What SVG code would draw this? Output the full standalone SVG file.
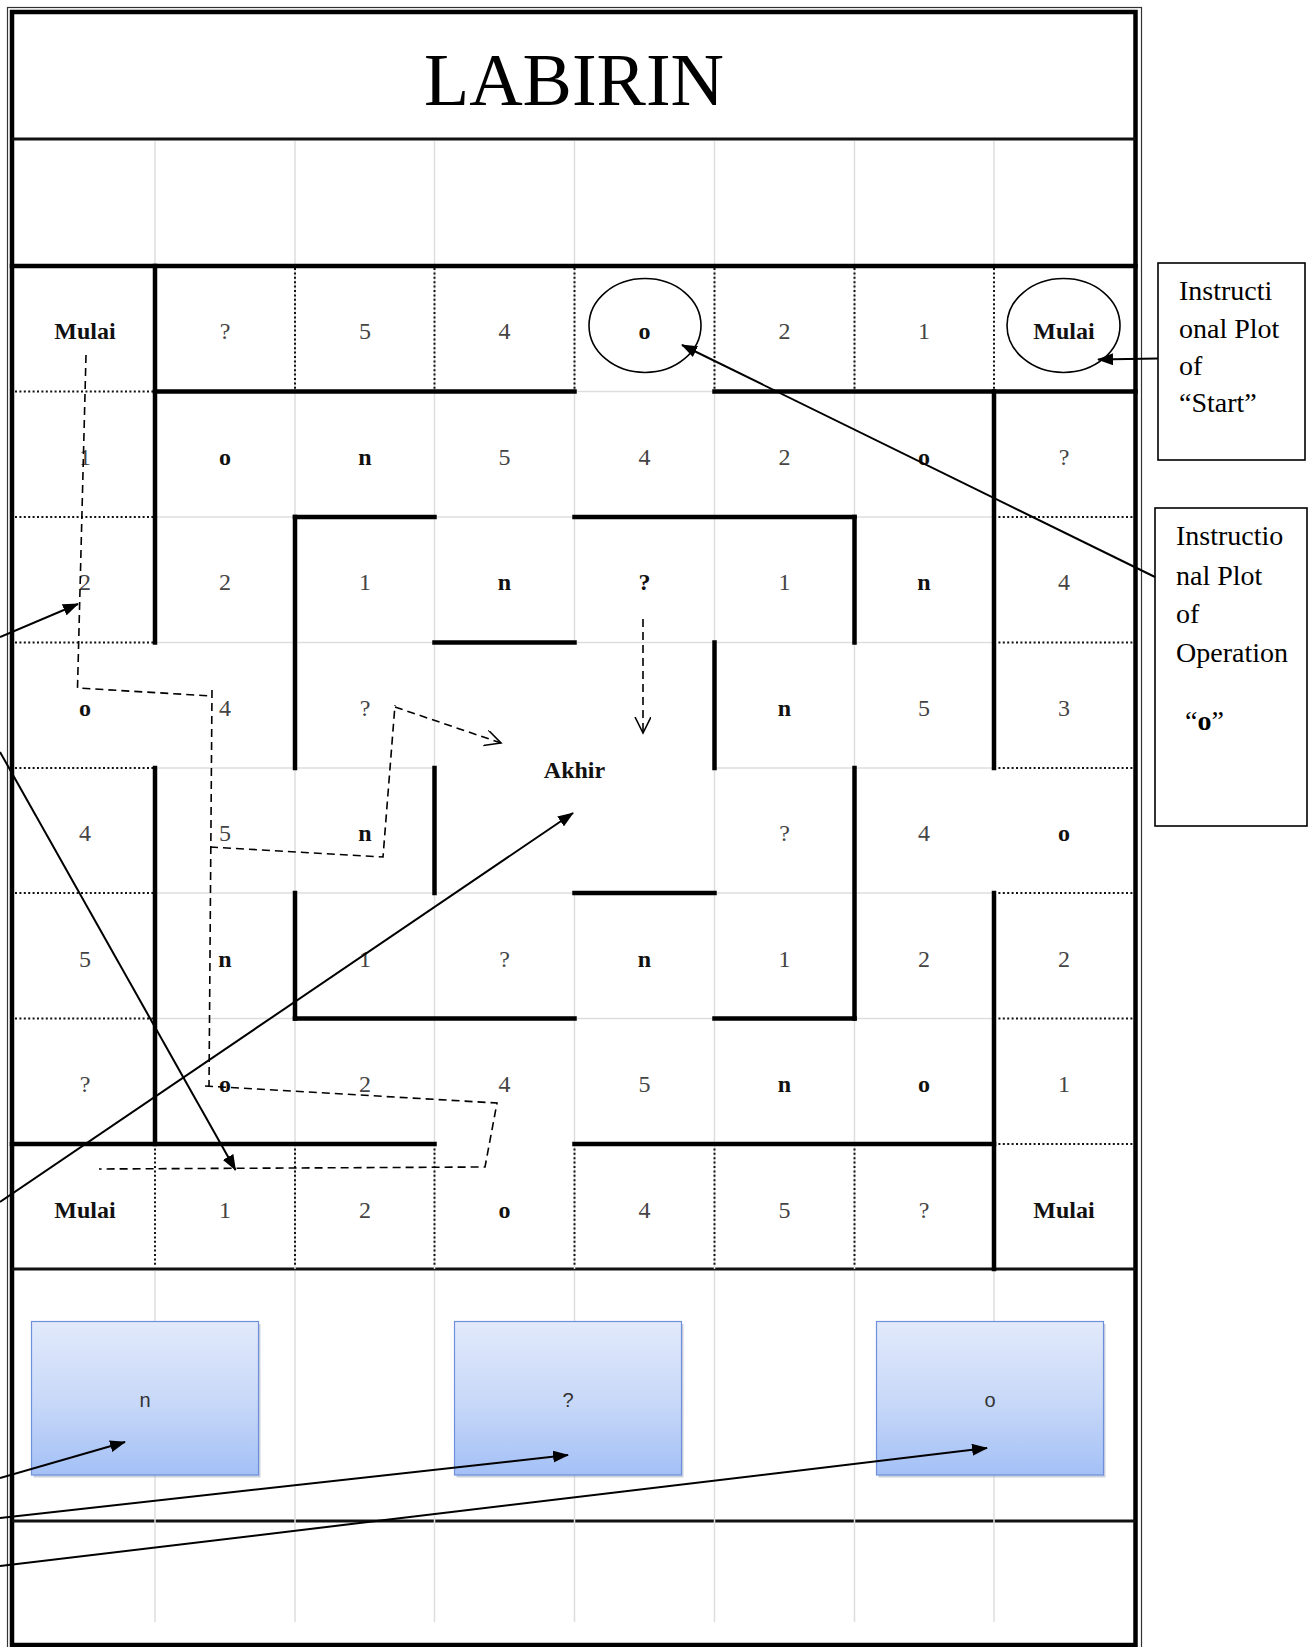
<svg xmlns="http://www.w3.org/2000/svg" width="1308" height="1647" viewBox="0 0 1308 1647">
<style>
.wall{stroke:#000;stroke-width:4.5;stroke-linecap:square;fill:none}
.dot{stroke:#111;stroke-width:2;stroke-dasharray:2 2.4;fill:none}
.faint{stroke:#dedede;stroke-width:1.5;fill:none}
.dash{stroke:#000;stroke-width:1.6;stroke-dasharray:8 5;fill:none}
.conn{stroke:#000;stroke-width:2;fill:none}
.c{font-family:"Liberation Serif","Times New Roman",serif;font-size:24px;fill:#444;text-anchor:middle}
.b{font-family:"Liberation Serif","Times New Roman",serif;font-size:24px;font-weight:bold;fill:#111;text-anchor:middle}
.note{font-family:"Liberation Serif","Times New Roman",serif;font-size:28px;fill:#000}
.box{fill:url(#blue);stroke:#6d8fdc;stroke-width:1.2}
.bt{font-family:"Liberation Sans",Arial,sans-serif;font-size:20px;fill:#333;text-anchor:middle}
</style>
<defs>
<linearGradient id="blue" x1="0" y1="0" x2="0" y2="1">
<stop offset="0" stop-color="#e2eafb"/>
<stop offset="0.55" stop-color="#c6d7f8"/>
<stop offset="1" stop-color="#a3c0f6"/>
</linearGradient>
<marker id="ah" markerUnits="userSpaceOnUse" markerWidth="16" markerHeight="12" refX="15" refY="6" orient="auto">
<path d="M0,0 L16,6 L0,12 z" fill="#000"/>
</marker>
<marker id="oh" markerUnits="userSpaceOnUse" markerWidth="20" markerHeight="20" refX="16" refY="8" orient="auto">
<path d="M0,0 L16,8 L0,16" fill="none" stroke="#000" stroke-width="1.6"/>
</marker>
</defs>
<rect width="1308" height="1647" fill="#fff"/>

<g id="frame">
<rect x="7.5" y="7.5" width="1134" height="1648" fill="none" stroke="#333" stroke-width="1.2"/>
<rect x="12" y="12" width="1123.5" height="1633" fill="none" stroke="#000" stroke-width="4.5"/>
<line x1="12" y1="139" x2="1135.5" y2="139" stroke="#111" stroke-width="3"/>
<line x1="12" y1="1269" x2="1135.5" y2="1269" stroke="#111" stroke-width="3"/>
<line x1="12" y1="1521" x2="1135.5" y2="1521" stroke="#111" stroke-width="3"/>
</g>

<g id="title">
<text x="574" y="105" font-family="Liberation Serif,Times New Roman,serif" font-size="74" text-anchor="middle" fill="#000">LABIRIN</text>
</g>

<g id="faint-grid">
<path class="faint" d="M155,141V264 M295,141V264 M434.5,141V264 M574.5,141V264 M714.5,141V264 M854.5,141V264 M994,141V264"/>
<path class="faint" d="M155,1271V1622 M295,1271V1622 M434.5,1271V1622 M574.5,1271V1622 M714.5,1271V1622 M854.5,1271V1622 M994,1271V1622"/>
<path class="faint" d="M295,266V1269 M434.5,266V1269 M574.5,266V642.5 M574.5,893V1269 M714.5,266V1269 M854.5,266V1269"/>
<path class="faint" d="M155,391.5H994 M155,517H994 M155,642.5H994 M155,768H434.5 M714.5,768H994 M155,893H994 M155,1018.5H994"/>
</g>

<g id="dotted">
<path class="dot" d="M15,391.5H155 M15,517H155 M15,642.5H155 M15,768H155 M15,893H155 M15,1018.5H155"/>
<path class="dot" d="M994,517H1133 M994,642.5H1133 M994,768H1133 M994,893H1133 M994,1018.5H1133 M994,1144H1133"/>
<path class="dot" d="M295,268V391.5 M434.5,268V391.5 M574.5,268V391.5 M714.5,268V391.5 M854.5,268V391.5 M994,268V391.5"/>
<path class="dot" d="M155,1144V1267 M295,1144V1267 M434.5,1144V1267 M574.5,1144V1267 M714.5,1144V1267 M854.5,1144V1267"/>
</g>

<g id="walls">
<path class="wall" d="M12,266H1135.5"/>
<path class="wall" d="M155,391.5H574.5 M714.5,391.5H1135.5"/>
<path class="wall" d="M295,517H434.5 M574.5,517H854.5"/>
<path class="wall" d="M434.5,642.5H574.5"/>
<path class="wall" d="M574.5,893H714.5"/>
<path class="wall" d="M295,1018.5H574.5 M714.5,1018.5H854.5"/>
<path class="wall" d="M12,1144H434.5 M574.5,1144H994"/>
<path class="wall" d="M155,266V642.5 M155,768V1144"/>
<path class="wall" d="M295,517V768 M295,893V1018.5"/>
<path class="wall" d="M434.5,768V893"/>
<path class="wall" d="M714.5,642.5V768"/>
<path class="wall" d="M854.5,517V642.5 M854.5,768V1018.5"/>
<path class="wall" d="M994,391.5V768 M994,893V1269"/>
</g>

<g id="cells">
<text class="b" x="85" y="339">Mulai</text><text class="c" x="225" y="339">?</text><text class="c" x="365" y="339">5</text><text class="c" x="504.5" y="339">4</text><text class="b" x="644.5" y="339">o</text><text class="c" x="784.5" y="339">2</text><text class="c" x="924" y="339">1</text><text class="b" x="1064" y="339">Mulai</text>
<text class="c" x="85" y="464.5">1</text><text class="b" x="225" y="464.5">o</text><text class="b" x="365" y="464.5">n</text><text class="c" x="504.5" y="464.5">5</text><text class="c" x="644.5" y="464.5">4</text><text class="c" x="784.5" y="464.5">2</text><text class="b" x="924" y="464.5">o</text><text class="c" x="1064" y="464.5">?</text>
<text class="c" x="85" y="590">2</text><text class="c" x="225" y="590">2</text><text class="c" x="365" y="590">1</text><text class="b" x="504.5" y="590">n</text><text class="b" x="644.5" y="590">?</text><text class="c" x="784.5" y="590">1</text><text class="b" x="924" y="590">n</text><text class="c" x="1064" y="590">4</text>
<text class="b" x="85" y="715.5">o</text><text class="c" x="225" y="715.5">4</text><text class="c" x="365" y="715.5">?</text><text class="b" x="784.5" y="715.5">n</text><text class="c" x="924" y="715.5">5</text><text class="c" x="1064" y="715.5">3</text>
<text class="b" x="574.5" y="777.5">Akhir</text>
<text class="c" x="85" y="841">4</text><text class="c" x="225" y="841">5</text><text class="b" x="365" y="841">n</text><text class="c" x="784.5" y="841">?</text><text class="c" x="924" y="841">4</text><text class="b" x="1064" y="841">o</text>
<text class="c" x="85" y="966.5">5</text><text class="b" x="225" y="966.5">n</text><text class="c" x="365" y="966.5">1</text><text class="c" x="504.5" y="966.5">?</text><text class="b" x="644.5" y="966.5">n</text><text class="c" x="784.5" y="966.5">1</text><text class="c" x="924" y="966.5">2</text><text class="c" x="1064" y="966.5">2</text>
<text class="c" x="85" y="1092">?</text><text class="b" x="225" y="1092">o</text><text class="c" x="365" y="1092">2</text><text class="c" x="504.5" y="1092">4</text><text class="c" x="644.5" y="1092">5</text><text class="b" x="784.5" y="1092">n</text><text class="b" x="924" y="1092">o</text><text class="c" x="1064" y="1092">1</text>
<text class="b" x="85" y="1217.5">Mulai</text><text class="c" x="225" y="1217.5">1</text><text class="c" x="365" y="1217.5">2</text><text class="b" x="504.5" y="1217.5">o</text><text class="c" x="644.5" y="1217.5">4</text><text class="c" x="784.5" y="1217.5">5</text><text class="c" x="924" y="1217.5">?</text><text class="b" x="1064" y="1217.5">Mulai</text>
</g>

<g id="circles">
<ellipse cx="645" cy="325.5" rx="56" ry="47" fill="none" stroke="#000" stroke-width="1.6"/>
<ellipse cx="1063.5" cy="325.5" rx="56.5" ry="47" fill="none" stroke="#000" stroke-width="1.6"/>
</g>

<g id="node-n">
<rect x="33.5" y="1324" width="227" height="153.5" fill="#9aa6b8" opacity="0.5"/>
<rect class="box" x="31.5" y="1321.5" width="227" height="153.5"/>
<text class="bt" x="145" y="1407">n</text>
</g>
<g id="node-q">
<rect x="456.5" y="1324" width="227" height="153.5" fill="#9aa6b8" opacity="0.5"/>
<rect class="box" x="454.5" y="1321.5" width="227" height="153.5"/>
<text class="bt" x="568" y="1407">?</text>
</g>
<g id="node-o">
<rect x="878.5" y="1324" width="227" height="153.5" fill="#9aa6b8" opacity="0.5"/>
<rect class="box" x="876.5" y="1321.5" width="227" height="153.5"/>
<text class="bt" x="990" y="1407">o</text>
</g>

<g id="note-start">
<rect x="1158" y="263" width="147" height="197" fill="#fff" stroke="#000" stroke-width="1.6"/>
<text class="note" x="1179" y="300">Instructi</text>
<text class="note" x="1179" y="338">onal Plot</text>
<text class="note" x="1179" y="375">of</text>
<text class="note" x="1179" y="412">“Start”</text>
</g>
<g id="note-op">
<rect x="1155" y="508" width="152" height="318" fill="#fff" stroke="#000" stroke-width="1.6"/>
<text class="note" x="1176" y="545">Instructio</text>
<text class="note" x="1176" y="585">nal Plot</text>
<text class="note" x="1176" y="623">of</text>
<text class="note" x="1176" y="662">Operation</text>
<text class="note" x="1185" y="730">“<tspan font-weight="bold">o</tspan>”</text>
</g>

<g id="connectors">
<line class="conn" x1="1158" y1="358.5" x2="1098" y2="359.5" marker-end="url(#ah)"/>
<line class="conn" x1="1155" y1="577" x2="682" y2="345" marker-end="url(#ah)"/>
<line class="conn" x1="0" y1="637" x2="78" y2="604" marker-end="url(#ah)"/>
<line class="conn" x1="0" y1="752" x2="235.5" y2="1170" marker-end="url(#ah)"/>
<line class="conn" x1="0" y1="1202" x2="573" y2="813" marker-end="url(#ah)"/>
<line class="conn" x1="0" y1="1478" x2="125" y2="1442" marker-end="url(#ah)"/>
<line class="conn" x1="0" y1="1518" x2="568" y2="1455" marker-end="url(#ah)"/>
<line class="conn" x1="0" y1="1566" x2="987" y2="1448" marker-end="url(#ah)"/>
<polyline class="dash" points="86,355 77.5,688 212,696"/>
<line class="dash" x1="212" y1="690" x2="209" y2="1087"/>
<polyline class="dash" points="210,847 383,857 395,705"/>
<line class="dash" x1="395" y1="707" x2="501" y2="743" marker-end="url(#oh)"/>
<polyline class="dash" points="205,1086 497,1103 485,1167 99,1169"/>
<line class="dash" x1="643" y1="619" x2="643" y2="733" marker-end="url(#oh)"/>
</g>
</svg>
